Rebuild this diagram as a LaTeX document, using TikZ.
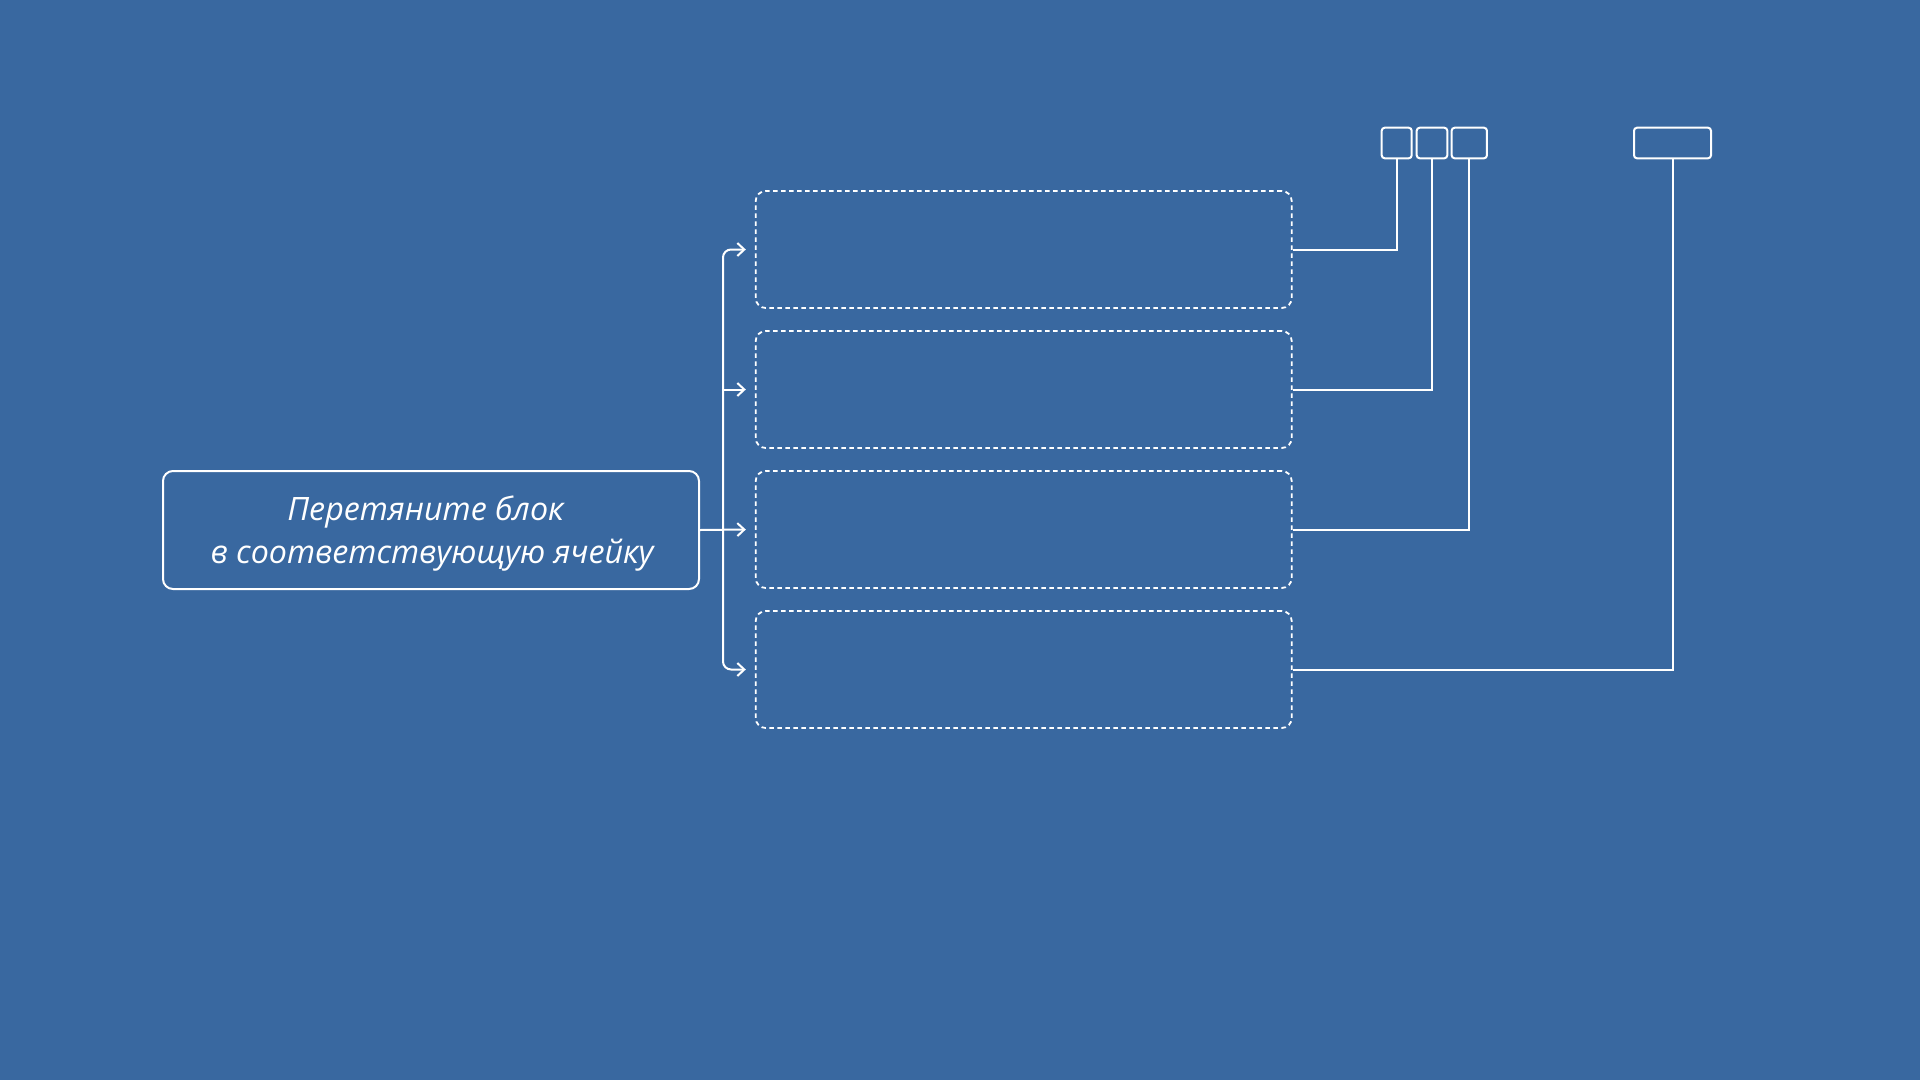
\documentclass[tikz,border=0pt]{standalone}
\usepackage{fontspec}
\setmainfont{Open Sans}
\usetikzlibrary{arrows.meta}
\definecolor{bg}{RGB}{57,104,160}
\begin{document}
\begin{tikzpicture}[x=1pt,y=-1pt,
  lw/.style={line width=2pt, draw=white},
  mainbox/.style={lw, rounded corners=10pt, minimum width=536pt, minimum height=118pt, inner sep=0pt},
  lbl/.style={inner sep=0pt, align=center, text=white, font=\fontsize{32.2}{43}\selectfont\itshape},
  slot/.style={draw=white, line width=1.8pt, dash pattern=on 4.5pt off 3.5pt, rounded corners=10pt, minimum width=536pt, minimum height=117pt, inner sep=0pt},
  tag/.style={lw, rounded corners=3pt, minimum height=30.6pt, inner sep=0pt},
  arr/.style={lw, -{Straight Barb[length=7pt,width=13pt,line width=2pt]}},
  conn/.style={lw}
]
\fill[bg] (0,0) rectangle (1920,1080);
\useasboundingbox (0,0) rectangle (1920,1080);

\node[mainbox] (main) at (431,530) {};
\node[lbl] (txt) at (432,534) {Перетяните блок\hspace*{13pt}\\в соответствующую ячейку};

\node[slot] (s1) at (1023.7,249.5) {};
\node[slot] (s2) at (1023.7,389.5) {};
\node[slot] (s3) at (1023.7,529.5) {};
\node[slot] (s4) at (1023.7,669.5) {};

\coordinate (bus) at (723,530);
\draw[arr] (main.east) -- ([xshift=-9pt]s3.west);
\draw[arr, rounded corners=8pt] (bus) |- ([xshift=-9pt]s1.west);
\draw[arr] (bus |- s2.west) -- ([xshift=-9pt]s2.west);
\draw[arr, rounded corners=8pt] (bus) |- ([xshift=-9pt]s4.west);

\node[tag, minimum width=30pt] (ta) at (1396.7,143) {};
\node[tag, minimum width=30.6pt] (tb) at (1432,143) {};
\node[tag, minimum width=35.3pt] (tc) at (1469.3,143) {};
\node[tag, minimum width=77pt] (td) at (1672.5,143) {};

\draw[conn] (s1.east) -| (ta.south);
\draw[conn] (s2.east) -| (tb.south);
\draw[conn] (s3.east) -| (tc.south);
\draw[conn] (s4.east) -| (td.south);
\end{tikzpicture}
\end{document}
